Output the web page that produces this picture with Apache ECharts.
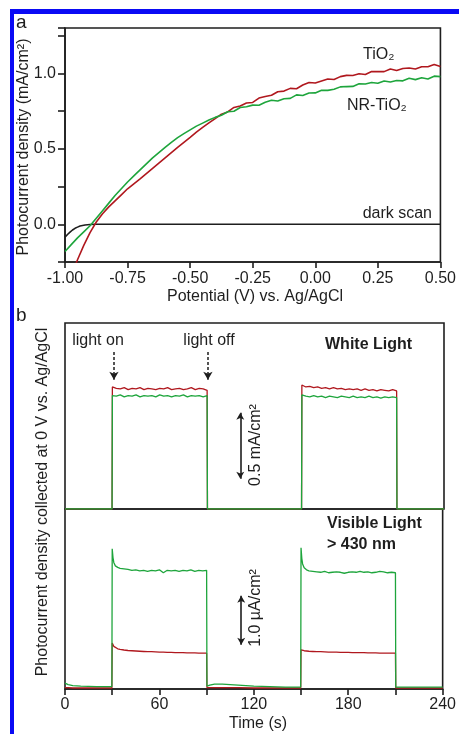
<!DOCTYPE html>
<html>
<head>
<meta charset="utf-8">
<script src="https://cdn.jsdelivr.net/npm/echarts@6/dist/echarts.min.js"></script>
<style>
  html, body { margin: 0; padding: 0; background: #fff; }
  #chart { width: 459px; height: 734px; }
</style>
</head>
<body>
<div id="chart"></div>
<script>
// panel a: linear sweep, photocurrent (mA/cm2) vs potential (V vs Ag/AgCl)
var potential = [-1.000, -0.975, -0.950, -0.925, -0.900, -0.875, -0.850, -0.825, -0.800, -0.775,
  -0.750, -0.725, -0.700, -0.675, -0.650, -0.625, -0.600, -0.575, -0.550, -0.525,
  -0.500, -0.475, -0.450, -0.425, -0.400, -0.375, -0.350, -0.325, -0.300, -0.275,
  -0.250, -0.225, -0.200, -0.175, -0.150, -0.125, -0.100, -0.075, -0.050, -0.025,
  0.000, 0.025, 0.050, 0.075, 0.100, 0.125, 0.150, 0.175, 0.200, 0.225,
  0.250, 0.275, 0.300, 0.325, 0.350, 0.375, 0.400, 0.425, 0.450, 0.475, 0.500];
var tio2Scan = [-0.44, -0.34, -0.235, -0.14, -0.055, 0.015, 0.07, 0.115, 0.155, 0.195,
  0.235, 0.268, 0.30, 0.335, 0.37, 0.405, 0.44, 0.475, 0.51, 0.543,
  0.576, 0.61, 0.642, 0.672, 0.70, 0.729, 0.744, 0.774, 0.783, 0.803,
  0.807, 0.836, 0.846, 0.855, 0.878, 0.882, 0.90, 0.898, 0.922, 0.939,
  0.936, 0.949, 0.962, 0.959, 0.978, 0.986, 0.985, 0.997, 0.992, 1.012,
  1.011, 1.011, 1.029, 1.019, 1.032, 1.035, 1.028, 1.043, 1.043, 1.058, 1.045];
var nrScan = [-0.18, -0.135, -0.09, -0.05, -0.01, 0.04, 0.09, 0.14, 0.19, 0.235,
  0.28, 0.32, 0.36, 0.40, 0.44, 0.475, 0.51, 0.543, 0.574, 0.60,
  0.625, 0.65, 0.67, 0.69, 0.708, 0.722, 0.745, 0.749, 0.773, 0.778,
  0.789, 0.788, 0.808, 0.821, 0.816, 0.831, 0.834, 0.857, 0.853, 0.869,
  0.87, 0.888, 0.887, 0.894, 0.91, 0.912, 0.913, 0.931, 0.929, 0.939,
  0.934, 0.949, 0.942, 0.952, 0.95, 0.967, 0.958, 0.97, 0.962, 0.981, 0.978];
var darkPotential = [-1.00, -0.99, -0.98, -0.97, -0.96, -0.95, -0.94, -0.92, -0.90, -0.88, -0.85, 0.50];
var darkScan = [-0.085, -0.068, -0.052, -0.038, -0.027, -0.019, -0.012, -0.005, -0.002, 0, 0, 0];

// panel b, white light (mA/cm2)
var whiteTime = [0, 29.8,
  30, 32.5, 35, 37.5, 40, 42.5, 45, 47.5, 50, 52.5, 55, 57.5, 60, 62.5, 65, 67.5, 70, 72.5, 75, 77.5, 80, 82.5, 85, 87.5, 90,
  90.2, 120, 149.8,
  150, 152.5, 155, 157.5, 160, 162.5, 165, 167.5, 170, 172.5, 175, 177.5, 180, 182.5, 185, 187.5, 190, 192.5, 195, 197.5, 200, 202.5, 205, 207.5, 210,
  210.2, 240];
var whiteTiO2 = [0, 0,
  0.925, 0.915, 0.91, 0.92, 0.905, 0.915, 0.91, 0.92, 0.905, 0.915, 0.91, 0.905, 0.915, 0.91, 0.92, 0.905, 0.91, 0.915, 0.905, 0.91, 0.92, 0.905, 0.915, 0.91, 0.90,
  0, 0, 0,
  0.94, 0.925, 0.93, 0.92, 0.925, 0.915, 0.92, 0.91, 0.92, 0.91, 0.915, 0.905, 0.91, 0.905, 0.91, 0.90, 0.91, 0.90, 0.905, 0.895, 0.905, 0.90, 0.895, 0.905, 0.895,
  0, 0];
var whiteNR = [0, 0,
  0.86, 0.855, 0.865, 0.85, 0.86, 0.855, 0.865, 0.85, 0.86, 0.855, 0.86, 0.85, 0.865, 0.855, 0.86, 0.85, 0.86, 0.855, 0.865, 0.85, 0.86, 0.855, 0.86, 0.85, 0.86,
  0, 0, 0,
  0.865, 0.855, 0.85, 0.86, 0.85, 0.855, 0.845, 0.855, 0.85, 0.845, 0.855, 0.85, 0.845, 0.855, 0.845, 0.85, 0.845, 0.855, 0.845, 0.85, 0.84, 0.85, 0.845, 0.85, 0.845,
  0, 0];

// panel b, visible light > 430 nm (uA/cm2)
var visTime = [0, 2, 5, 10, 20, 29.8,
  30, 30.5, 31, 32, 33.5, 35, 37.5,
  40, 42.5, 45, 47.5, 50, 52.5, 55, 57.5, 60, 62.5, 65, 67.5, 70, 72.5, 75, 77.5, 80, 82.5, 85, 87.5, 90,
  90.2, 92, 95, 100, 105, 110, 120, 130, 140, 149.8,
  150, 150.5, 151, 152, 153.5, 155, 157.5,
  160, 162.5, 165, 167.5, 170, 172.5, 175, 177.5, 180, 182.5, 185, 187.5, 190, 192.5, 195, 197.5, 200, 202.5, 205, 207.5, 210,
  210.2, 220, 230, 240];
var visNR = [0.12, 0.09, 0.07, 0.06, 0.05, 0.05,
  2.86, 2.68, 2.58, 2.51, 2.48, 2.46, 2.45,
  2.44, 2.42, 2.43, 2.41, 2.42, 2.40, 2.42, 2.41, 2.43, 2.37, 2.42, 2.41, 2.42, 2.40, 2.42, 2.41, 2.43, 2.40, 2.42, 2.41, 2.42,
  0.06, 0.08, 0.10, 0.10, 0.09, 0.08, 0.06, 0.05, 0.04, 0.04,
  2.88, 2.66, 2.55, 2.47, 2.43, 2.41, 2.40,
  2.39, 2.38, 2.40, 2.37, 2.38, 2.39, 2.38, 2.36, 2.38, 2.39, 2.38, 2.40, 2.38, 2.39, 2.37, 2.38, 2.40, 2.39, 2.37, 2.38, 2.37,
  0.04, 0.04, 0.04, 0.04];
var visTiO2 = [0.03, 0.03, 0.02, 0.02, 0.02, 0.02,
  0.94, 0.90, 0.87, 0.84, 0.82, 0.81, 0.795,
  0.785, 0.78, 0.775, 0.77, 0.765, 0.76, 0.76, 0.755, 0.75, 0.75, 0.745, 0.745, 0.74, 0.74, 0.74, 0.735, 0.735, 0.735, 0.73, 0.73, 0.73,
  0.03, 0.03, 0.03, 0.03, 0.03, 0.03, 0.02, 0.02, 0.02, 0.02,
  0.80, 0.79, 0.785, 0.78, 0.775, 0.77, 0.765,
  0.76, 0.76, 0.755, 0.75, 0.75, 0.75, 0.745, 0.745, 0.745, 0.74, 0.74, 0.74, 0.74, 0.735, 0.735, 0.735, 0.73, 0.73, 0.73, 0.73, 0.73,
  0.02, 0.02, 0.02, 0.02];

var potentialTicks = [-1.0, -0.75, -0.5, -0.25, 0, 0.25, 0.5];
var currentLabels = [0, 0.5, 1.0];
var timeTicks = [0, 60, 120, 180, 240];

var RED = '#b0181e';
var GREEN = '#1ea53c';
var INK = '#1e1e1e';
var FONT = '"Liberation Sans", Arial, sans-serif';

function zip(xs, ys) {
  return xs.map(function (x, i) { return [x, ys[i]]; });
}

function text(str, x, y, extra) {
  var style = { text: str, fill: INK, fontSize: 16, fontFamily: FONT, align: 'left', verticalAlign: 'middle' };
  var el = { type: 'text', x: x, y: y, silent: true, style: style };
  if (extra) {
    for (var k in extra) {
      if (k === 'rotation') el.rotation = extra[k];
      else style[k] = extra[k];
    }
  }
  return el;
}

var myChart = echarts.init(document.getElementById('chart'), null, { renderer: 'canvas' });

var gridBox = { show: true, borderColor: INK, borderWidth: 1.6, backgroundColor: 'transparent', left: 65, width: 379 };

var option = {
  animation: false,
  backgroundColor: '#fff',
  grid: [
    Object.assign({}, gridBox, { top: 28, height: 234 }),
    Object.assign({}, gridBox, { top: 323, height: 186 }),
    Object.assign({}, gridBox, { top: 509, height: 180 })
  ],
  xAxis: [
    {
      gridIndex: 0, type: 'value', min: -1, max: 0.5, interval: 0.25,
      axisLine: { show: true, onZero: false, lineStyle: { color: INK, width: 1.6 } },
      axisTick: { show: true, length: 6, lineStyle: { color: INK, width: 1.6 } },
      axisLabel: {
        color: INK, fontSize: 16, fontFamily: FONT, margin: 9,
        formatter: function (v) {
          var hit = potentialTicks.some(function (t) { return Math.abs(t - v) < 1e-6; });
          return hit ? v.toFixed(2) : '';
        }
      },
      splitLine: { show: false }
    },
    {
      gridIndex: 1, type: 'value', min: 0, max: 240,
      axisLine: { show: false }, axisTick: { show: false }, axisLabel: { show: false }, splitLine: { show: false }
    },
    {
      gridIndex: 2, type: 'value', min: 0, max: 240, interval: 60,
      axisLine: { show: true, onZero: false, lineStyle: { color: INK, width: 1.6 } },
      axisTick: { show: true, length: 6, lineStyle: { color: INK, width: 1.6 } },
      minorTick: { show: true, splitNumber: 2, length: 6, lineStyle: { color: INK, width: 1.6 } },
      axisLabel: {
        color: INK, fontSize: 16, fontFamily: FONT, margin: 8,
        formatter: function (v) { return timeTicks.indexOf(v) >= 0 ? String(v) : ''; }
      },
      splitLine: { show: false }
    }
  ],
  yAxis: [
    {
      gridIndex: 0, type: 'value', min: -0.25, max: 1.3, interval: 0.25,
      axisLine: { show: true, onZero: false, lineStyle: { color: INK, width: 1.6 } },
      axisTick: { show: true, length: 7, lineStyle: { color: INK, width: 1.6 } },
      axisLabel: {
        color: INK, fontSize: 16, fontFamily: FONT, margin: 9,
        formatter: function (v) {
          var hit = currentLabels.some(function (t) { return Math.abs(t - v) < 1e-6; });
          return hit ? v.toFixed(1) : '';
        }
      },
      splitLine: { show: false }
    },
    {
      gridIndex: 1, type: 'value', min: 0, max: 1.41,
      axisLine: { show: false }, axisTick: { show: false }, axisLabel: { show: false }, splitLine: { show: false }
    },
    {
      gridIndex: 2, type: 'value', min: 0, max: 3.67,
      axisLine: { show: false }, axisTick: { show: false }, axisLabel: { show: false }, splitLine: { show: false }
    }
  ],
  series: [
    {
      name: 'dark scan', type: 'line', xAxisIndex: 0, yAxisIndex: 0, showSymbol: false, silent: true,
      lineStyle: { color: INK, width: 1.6 }, data: zip(darkPotential, darkScan)
    },
    {
      name: 'TiO2', type: 'line', xAxisIndex: 0, yAxisIndex: 0, showSymbol: false, silent: true, clip: true,
      lineStyle: { color: RED, width: 1.6 }, data: zip(potential, tio2Scan)
    },
    {
      name: 'NR-TiO2', type: 'line', xAxisIndex: 0, yAxisIndex: 0, showSymbol: false, silent: true, clip: true,
      lineStyle: { color: GREEN, width: 1.6 }, data: zip(potential, nrScan)
    },
    {
      name: 'TiO2 white', type: 'line', xAxisIndex: 1, yAxisIndex: 1, showSymbol: false, silent: true,
      lineStyle: { color: RED, width: 1.3 }, data: zip(whiteTime, whiteTiO2),
      markLine: {
        silent: true, animation: false, label: { show: false },
        symbol: ['none', 'arrow'], symbolSize: [7, 8],
        lineStyle: { color: INK, width: 1.5, type: [3, 2] },
        data: [
          [{ coord: [31, 1.19] }, { coord: [31, 0.98] }],
          [{ coord: [90.5, 1.19] }, { coord: [90.5, 0.98] }]
        ]
      }
    },
    {
      name: 'NR-TiO2 white', type: 'line', xAxisIndex: 1, yAxisIndex: 1, showSymbol: false, silent: true,
      lineStyle: { color: GREEN, width: 1.3 }, data: zip(whiteTime, whiteNR),
      markLine: {
        silent: true, animation: false, label: { show: false },
        symbol: ['arrow', 'arrow'], symbolSize: [6, 7],
        lineStyle: { color: INK, width: 1.6, type: 'solid' },
        data: [[{ coord: [111, 0.23] }, { coord: [111, 0.73] }]]
      }
    },
    {
      name: 'TiO2 visible', type: 'line', xAxisIndex: 2, yAxisIndex: 2, showSymbol: false, silent: true,
      lineStyle: { color: RED, width: 1.3 }, data: zip(visTime, visTiO2),
      markLine: {
        silent: true, animation: false, label: { show: false },
        symbol: ['arrow', 'arrow'], symbolSize: [6, 7],
        lineStyle: { color: INK, width: 1.6, type: 'solid' },
        data: [[{ coord: [112, 0.9] }, { coord: [112, 1.9] }]]
      }
    },
    {
      name: 'NR-TiO2 visible', type: 'line', xAxisIndex: 2, yAxisIndex: 2, showSymbol: false, silent: true,
      lineStyle: { color: GREEN, width: 1.3 }, data: zip(visTime, visNR)
    }
  ],
  graphic: [
    // blue frame of the figure
    { type: 'rect', silent: true, shape: { x: 10, y: 9, width: 449, height: 5 }, style: { fill: '#0a0af5' } },
    { type: 'rect', silent: true, shape: { x: 10, y: 9, width: 4, height: 725 }, style: { fill: '#0a0af5' } },
    text('a', 16, 23, { fontSize: 19 }),
    text('b', 16, 316, { fontSize: 19 }),
    text('Photocurrent density (mA/cm²)', 24, 147, { align: 'center', rotation: Math.PI / 2 }),
    text('Potential (V) vs. Ag/AgCl', 255, 297, { align: 'center' }),
    text('TiO₂', 363, 55),
    text('NR-TiO₂', 347, 106),
    text('dark scan', 432, 214, { align: 'right' }),
    text('Photocurrent density collected at 0 V vs. Ag/AgCl', 43, 502, { align: 'center', rotation: Math.PI / 2 }),
    text('light on', 98, 341, { align: 'center' }),
    text('light off', 209, 341, { align: 'center' }),
    text('White Light', 325, 345, { fontWeight: 'bold' }),
    text('0.5 mA/cm²', 256, 445, { align: 'center', rotation: Math.PI / 2 }),
    text('Visible Light', 327, 524, { fontWeight: 'bold' }),
    text('> 430 nm', 327, 545, { fontWeight: 'bold' }),
    text('1.0 µA/cm²', 256, 608, { align: 'center', rotation: Math.PI / 2 }),
    text('Time (s)', 258, 724, { align: 'center' })
  ]
};

myChart.setOption(option);
</script>
</body>
</html>
